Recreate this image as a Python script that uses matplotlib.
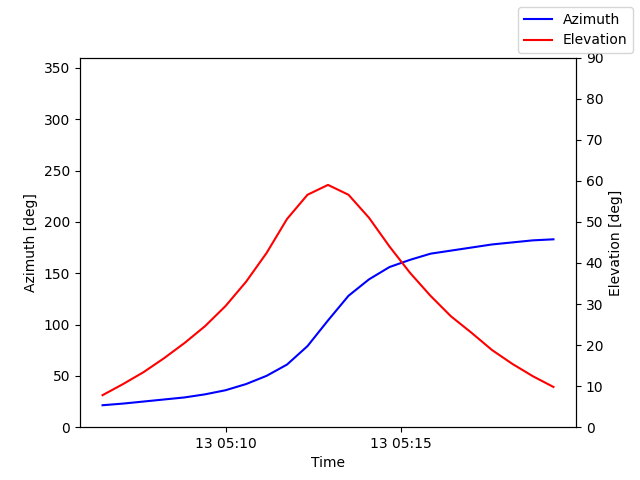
import numpy as np, pandas as pd
import matplotlib
matplotlib.use("Agg")
import matplotlib.pyplot as plt

start = "2024-01-13 05:06:30"
step_s = 35
azimuth = [21.4,23,25,27,29,32,36,42,50,61,79,104,128,144,156,163,169,172,175,178,180,182,183]
elevation = [7.8,10.5,13.4,16.8,20.5,24.6,29.5,35.4,42.4,50.7,56.6,59,56.6,51,44,37.6,32,27,23,18.8,15.4,12.4,9.8]
times = pd.date_range(start, periods=len(azimuth), freq=f"{step_s}s").to_pydatetime()

fig, ax = plt.subplots(figsize=(6.4, 4.8), dpi=100)
l1, = ax.plot(times, azimuth, color="blue", label="Azimuth")
ax.set_ylim(0, 360)
ax.set_ylabel("Azimuth [deg]")
ax.set_xlabel("Time")
ax2 = ax.twinx()
l2, = ax2.plot(times, elevation, color="red", label="Elevation")
ax2.set_ylim(0, 90)
ax2.set_ylabel("Elevation [deg]")
fig.legend(handles=[l1, l2], loc="upper right")
fig.savefig("out.png", dpi=100)
